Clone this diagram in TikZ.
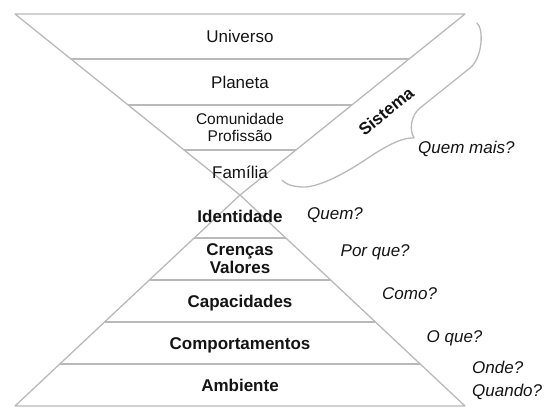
\documentclass[tikz,border=0pt]{standalone}
\usepackage{fontspec}
\setmainfont{Liberation Sans}
\usetikzlibrary{calc}
\definecolor{linegray}{RGB}{185,185,185}
\definecolor{txt}{RGB}{20,20,20}
\begin{document}
\begin{tikzpicture}[x=1pt,y=-1pt,
  edge/.style={draw=linegray,line width=1.3pt,line join=round},
  lvl/.style={font=\fontsize{17}{20}\selectfont,text=txt,inner sep=0pt,text height=12.2pt,text depth=0pt},
  lvlb/.style={lvl,font=\fontsize{17}{20}\selectfont\bfseries},
  multi/.style={text=txt,inner sep=0pt,align=center},
  qlabel/.style={font=\fontsize{17}{20}\selectfont\itshape,text=txt,inner sep=0pt,text height=12.2pt,text depth=0pt,anchor=west}]
\useasboundingbox (0,0) rectangle (552,416);
% corners
\coordinate (TL) at (15,14);
\coordinate (TR) at (465,14);
\coordinate (AP) at (240,195);
\coordinate (BL) at (15,406);
\coordinate (BR) at (465,406);
% hourglass
\draw[edge] (TL) -- (TR) -- (AP) -- cycle;
\draw[edge] (AP) -- (BR) -- (BL) -- cycle;
% top bands
\foreach \f in {0.2486,0.5028,0.7514}
  \draw[edge] ($(TL)!\f!(AP)$) -- ($(TR)!\f!(AP)$);
% bottom bands
\foreach \f in {0.2038,0.4028,0.6019,0.8009}
  \draw[edge] ($(AP)!\f!(BL)$) -- ($(AP)!\f!(BR)$);
% brace
\draw[edge,line cap=round] (477,23) .. controls (484,29) and (482.5,58) .. (470,68)
  -- (420,108) .. controls (411,115) and (409,130) .. (414,138)
  .. controls (400,137) and (380,150) .. (365,160)
  .. controls (350,170) and (320,188) .. (302,187)
  .. controls (292,186.5) and (285,184) .. (282,180);
% level texts
\node[lvl] (universo) at (240,36.5) {Universo};
\node[lvl] (planeta) at (240,82) {Planeta};
\node[multi,font=\fontsize{15.5}{17}\selectfont] (comunidade) at (240,127.5) {Comunidade\\Profissão};
\node[lvl] (familia) at (240,172) {Família};
\node[lvlb] (identidade) at (240,216) {Identidade};
\node[multi,font=\fontsize{17}{18.5}\selectfont\bfseries] (crencas) at (240,258.5) {Crenças\\Valores};
\node[lvlb] (capacidades) at (240,301) {Capacidades};
\node[lvlb] (comportamentos) at (240,343) {Comportamentos};
\node[lvlb] (ambiente) at (240,385) {Ambiente};
% system label
\node[lvlb,rotate=39] (sistema) at (386,111) {Sistema};
% questions
\node[qlabel] (quemmais) at (418,147.5) {Quem mais?};
\node[qlabel] (quem) at (307,213) {Quem?};
\node[qlabel] (porque) at (340.5,250) {Por que?};
\node[qlabel] (como) at (382,293.5) {Como?};
\node[qlabel] (oque) at (426.5,336) {O que?};
\node[multi,align=left,anchor=west,font=\fontsize{17}{22.5}\selectfont\itshape] (onde) at (472,380.5) {Onde?\\Quando?};
\end{tikzpicture}
\end{document}
